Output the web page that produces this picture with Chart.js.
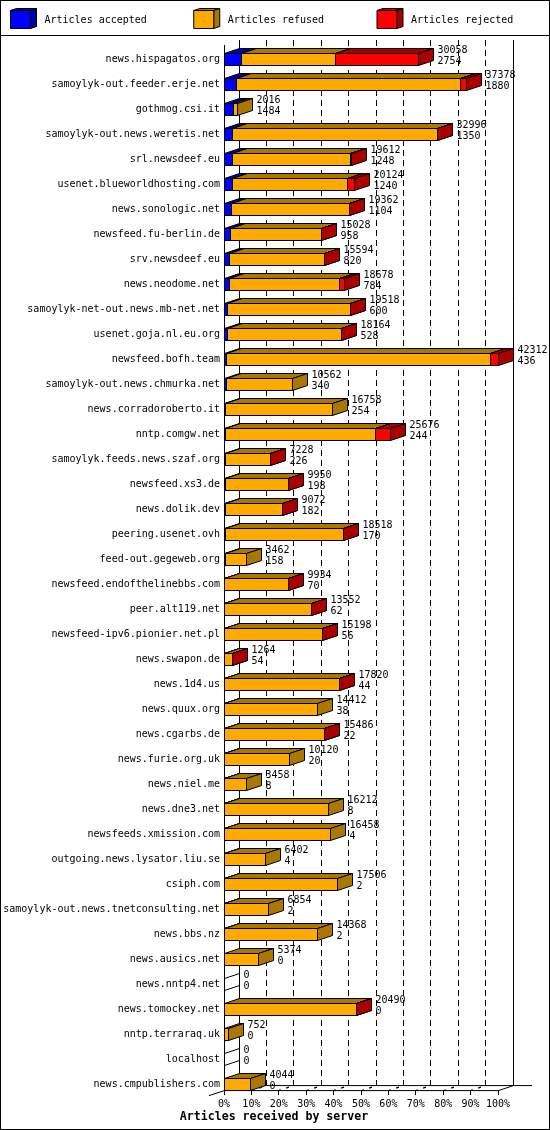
<!DOCTYPE html>
<html>
<head>
<meta charset="utf-8">
<title>Articles received by server</title>
<script src="https://cdn.jsdelivr.net/npm/chart.js@4/dist/chart.umd.min.js"></script>
<style>
    html, body { margin: 0; padding: 0; background: #fff; }
    canvas { display: block; }
</style>
</head>
<body>
<canvas id="myChart" width="550" height="1130"></canvas>
<script>
const servers = [
    'news.hispagatos.org', 'samoylyk-out.feeder.erje.net', 'gothmog.csi.it', 'samoylyk-out.news.weretis.net',
    'srl.newsdeef.eu', 'usenet.blueworldhosting.com', 'news.sonologic.net', 'newsfeed.fu-berlin.de',
    'srv.newsdeef.eu', 'news.neodome.net', 'samoylyk-net-out.news.mb-net.net', 'usenet.goja.nl.eu.org',
    'newsfeed.bofh.team', 'samoylyk-out.news.chmurka.net', 'news.corradoroberto.it', 'nntp.comgw.net',
    'samoylyk.feeds.news.szaf.org', 'newsfeed.xs3.de', 'news.dolik.dev', 'peering.usenet.ovh',
    'feed-out.gegeweb.org', 'newsfeed.endofthelinebbs.com', 'peer.alt119.net', 'newsfeed-ipv6.pionier.net.pl',
    'news.swapon.de', 'news.1d4.us', 'news.quux.org', 'news.cgarbs.de',
    'news.furie.org.uk', 'news.niel.me', 'news.dne3.net', 'newsfeeds.xmission.com',
    'outgoing.news.lysator.liu.se', 'csiph.com', 'samoylyk-out.news.tnetconsulting.net', 'news.bbs.nz',
    'news.ausics.net', 'news.nntp4.net', 'news.tomockey.net', 'nntp.terraraq.uk',
    'localhost', 'news.cmpublishers.com',
];
const totals = [
    30058, 37378, 2016, 32996, 19612, 20124, 19362, 15028, 15594, 18678, 19518, 18164, 42312, 10562,
    16758, 25676, 7228, 9950, 9072, 18518, 3462, 9934, 13552, 15198, 1264, 17820, 14412, 15486,
    10120, 3458, 16212, 16458, 6402, 17506, 6854, 14368, 5374, 0, 20490, 752, 0, 4044,
];
const accepted = [
    2754, 1880, 1484, 1350, 1248, 1240, 1104, 958, 820, 784, 600, 528, 436, 340,
    254, 244, 226, 198, 182, 170, 158, 70, 62, 56, 54, 44, 38, 22,
    20, 8, 8, 4, 4, 2, 2, 2, 0, 0, 0, 0, 0, 0,
];
const refused = [
    14434, 34568, 532, 31566, 18304, 17804, 18218, 14040, 14744, 17094, 18878, 17596, 40746, 10222,
    16504, 23192, 6982, 9732, 8870, 18318, 3304, 9844, 13460, 15122, 1200, 17746, 14374, 15444,
    10100, 3450, 16204, 16454, 6398, 17504, 6852, 14366, 5374, 0, 20470, 752, 0, 4044,
];
const rejected = [
    12870, 930, 0, 80, 60, 1080, 40, 30, 30, 800, 40, 40, 1130, 0,
    0, 2240, 20, 20, 20, 30, 0, 20, 30, 20, 10, 30, 0, 20,
    0, 0, 0, 0, 0, 0, 0, 0, 0, 0, 20, 0, 0, 0,
];
const tickPercents = [0, 10, 20, 30, 40, 50, 60, 70, 80, 90, 100];
const seriesNames = ['Articles accepted', 'Articles refused', 'Articles rejected'];
const frontColors = ['#0000ff', '#ffaa00', '#ff0000'];
const sideColors = ['#0000aa', '#aa7700', '#aa0000'];

const maxTotal = 42312;
const monoFont = '"DejaVu Sans Mono", monospace';
// depth of the fake 3d
const dx = 15;
const dy = -5;
// bars sit at the bottom of their band
const barShift = 6.5;

function line(ctx, x1, y1, x2, y2) {
    ctx.beginPath();
    ctx.moveTo(x1, y1);
    ctx.lineTo(x2, y2);
    ctx.stroke();
}

function poly(ctx, pts, fill) {
    ctx.beginPath();
    pts.forEach((p, i) => i ? ctx.lineTo(p[0], p[1]) : ctx.moveTo(p[0], p[1]));
    ctx.closePath();
    ctx.fillStyle = fill;
    ctx.fill();
    ctx.stroke();
}

function box(ctx, x0, x1, t, b, ox, oy, front, side) {
    poly(ctx, [[x0, t], [x0 + ox, t + oy], [x1 + ox, t + oy], [x1, t]], side);
    poly(ctx, [[x1, t], [x1 + ox, t + oy], [x1 + ox, b + oy], [x1, b]], side);
    poly(ctx, [[x0, t], [x1, t], [x1, b], [x0, b]], front);
}

const walls = {
    id: 'walls',
    // long server names need the whole left side, the axis clips to its box
    afterLayout(chart) {
        chart.scales.y.left = 0;
    },
    beforeDatasetsDraw(chart) {
        const ctx = chart.ctx;
        const x = chart.scales.x;
        const { top, bottom, left, right } = chart.chartArea;
        ctx.save();
        ctx.strokeStyle = '#000';
        ctx.lineWidth = 1;

        // frame and legend rule
        ctx.strokeRect(0.5, 0.5, chart.width - 1, chart.height - 1);
        line(ctx, 0, 35.5, chart.width, 35.5);

        // back wall grid
        x.ticks.forEach((tick, i) => {
            const front = Math.floor(x.getPixelForTick(i)) + 0.5;
            const back = front + dx;
            const solid = i === 0 || i === x.ticks.length - 1;
            ctx.setLineDash(solid ? [] : [6, 4]);
            line(ctx, back, top, back, bottom + dy);
            // floor lines, only short dashes of them show
            if (!solid) {
                ctx.setLineDash([2.5, 5.5, 3, 5]);
                ctx.lineWidth = 1.4;
                line(ctx, front, bottom + 0.5, back, bottom + dy + 0.5);
                ctx.lineWidth = 1;
            }
            ctx.setLineDash([]);
            line(ctx, front, bottom, front, bottom + 5);
        });

        ctx.setLineDash([]);
        line(ctx, left + 0.5, top + 5, left + 0.5, bottom + 0.5);
        line(ctx, left - dx, bottom - dy + 0.5, left + 0.5, bottom + 0.5);
        line(ctx, left, bottom + 0.5, right, bottom + 0.5);
        line(ctx, right + 0.5, bottom + 0.5, right + dx + 0.5, bottom + dy + 0.5);
        line(ctx, left + dx, bottom + dy + 0.5, right + dx + 19, bottom + dy + 0.5);
        ctx.restore();
    },
    afterDraw(chart) {
        // legend
        const ctx = chart.ctx;
        ctx.save();
        ctx.lineWidth = 1;
        ctx.strokeStyle = '#000';
        ctx.font = '10px ' + monoFont;
        ctx.textBaseline = 'middle';
        ctx.textAlign = 'left';
        chart.data.datasets.forEach((ds, i) => {
            const lx = 10.5 + i * 183.25;
            box(ctx, lx, lx + 20, 10.5, 28.5, 6, -2, frontColors[i], sideColors[i]);
            ctx.fillStyle = '#000';
            ctx.fillText(ds.label, lx + 34, 20);
        });
        ctx.restore();
    },
};

const bars3d = {
    id: 'bars3d',
    beforeDatasetsDraw(chart) {
        const ctx = chart.ctx;
        ctx.save();
        ctx.strokeStyle = '#000';
        ctx.lineWidth = 1;
        chart.data.labels.forEach((name, row) => {
            let endX = chart.chartArea.left + 0.5;
            let t = 0;
            let b = 0;
            chart.data.datasets.forEach((ds, i) => {
                const el = chart.getDatasetMeta(i).data[row];
                const h = el.height / 2;
                t = Math.round(el.y + barShift - h) + 0.5;
                b = Math.round(el.y + barShift + h) + 0.5;
                if (!ds.data[row]) {
                    return;
                }
                const x0 = Math.floor(el.base) + 0.5;
                const x1 = Math.floor(el.x) + 0.5;
                box(ctx, x0, x1, t, b, dx, dy, ds.backgroundColor, ds.borderColor);
                endX = x1;
            });
            if (!totals[row]) {
                line(ctx, endX, t, endX + dx, t + dy);
                line(ctx, endX, b, endX + dx, b + dy);
            }
            // totals and accepted next to the bar end
            ctx.fillStyle = '#000';
            ctx.font = '10px ' + monoFont;
            ctx.textAlign = 'left';
            ctx.textBaseline = 'middle';
            ctx.fillText(totals[row], endX + dx + 4, t - 3);
            ctx.fillText(accepted[row], endX + dx + 4, t + 8);
        });
        ctx.restore();
    },
    // 3d boxes replace the flat bars
    beforeDatasetDraw() {
        return false;
    },
};

new Chart(document.getElementById('myChart'), {
    type: 'bar',
    data: {
        labels: servers,
        datasets: [accepted, refused, rejected].map((values, i) => ({
            label: seriesNames[i],
            data: values,
            backgroundColor: frontColors[i],
            borderColor: sideColors[i],
            barThickness: 12,
        })),
    },
    plugins: [walls, bars3d],
    options: {
        indexAxis: 'y',
        responsive: false,
        animation: false,
        devicePixelRatio: 1,
        layout: {
            // left padding puts the bottom title where the reference has it
            padding: { left: 50, top: 40, right: 52, bottom: 6 },
        },
        plugins: {
            legend: { display: false },
            tooltip: { enabled: false },
            title: {
                display: true,
                position: 'bottom',
                text: 'Articles received by server',
                color: '#000',
                padding: 0,
                font: { family: monoFont, size: 11.6, weight: 'bold', lineHeight: 1.2 },
            },
        },
        scales: {
            x: {
                stacked: true,
                min: 0,
                max: maxTotal,
                grid: { display: false, drawTicks: false },
                border: { display: false },
                afterBuildTicks(scale) {
                    scale.ticks = tickPercents.map(p => ({ value: p / 100 * maxTotal }));
                },
                afterFit(scale) {
                    scale.height = 20;
                },
                ticks: {
                    color: '#000',
                    padding: 8,
                    maxRotation: 0,
                    autoSkip: false,
                    font: { family: monoFont, size: 10 },
                    callback: value => Math.round(value / maxTotal * 100) + '%',
                },
            },
            y: {
                stacked: true,
                grid: { display: false, drawTicks: false },
                border: { display: false },
                afterFit(scale) {
                    scale.width = 174;
                },
                ticks: {
                    color: '#000',
                    padding: 4,
                    labelOffset: barShift + 0.5,
                    autoSkip: false,
                    font: { family: monoFont, size: 10 },
                },
            },
        },
    },
});
</script>
</body>
</html>
